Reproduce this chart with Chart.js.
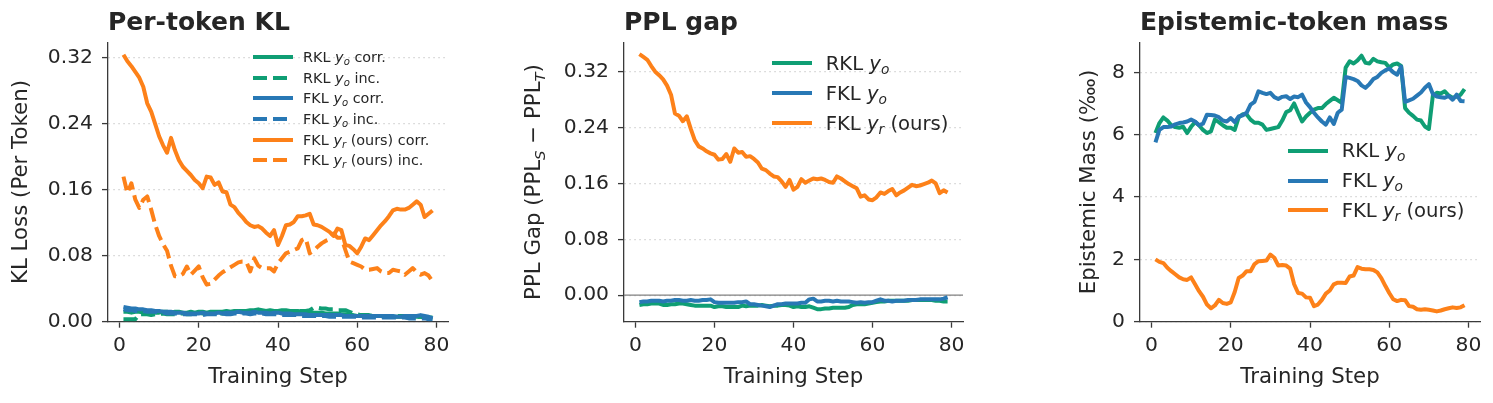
<!DOCTYPE html>
<html>
<head>
<meta charset="utf-8">
<script src="https://cdn.jsdelivr.net/npm/chart.js@4.4.1/dist/chart.umd.min.js"></script>
<style>
  html, body { margin: 0; padding: 0; background: #fff; }
  body { width: 1493px; height: 403px; position: relative; overflow: hidden;
         font-family: "DejaVu Sans", sans-serif; color: #262626; }
  canvas { position: absolute; top: 0; }
  .legend { position: absolute; }
  .legend .row { display: flex; align-items: center; white-space: nowrap; }
  .legend svg { display: block; flex: none; }
  .legend i { font-style: oblique; }
  .legend sub { font-size: 0.7em; vertical-align: -0.28em; line-height: 0; }
</style>
</head>
<body>
<canvas id="c-kl"  width="480" height="403" style="left:0px"></canvas>
<canvas id="c-ppl" width="490" height="403" style="left:497px"></canvas>
<canvas id="c-em"  width="493" height="403" style="left:1000px"></canvas>
<div class="legend" id="lg-kl"  style="left:253px;top:47px;font-size:14.4px"></div>
<div class="legend" id="lg-ppl" style="left:772px;top:48px;font-size:19.6px"></div>
<div class="legend" id="lg-em"  style="left:1288px;top:136px;font-size:19.6px"></div>

<script>
// =====================================================
// DATA (Training Step 1..79)
// =====================================================
const STEPS = [1,2,3,4,5,6,7,8,9,10,11,12,13,14,15,16,17,18,19,20,21,22,23,24,25,26,27,28,29,30,
  31,32,33,34,35,36,37,38,39,40,41,42,43,44,45,46,47,48,49,50,51,52,53,54,55,56,57,58,59,60,
  61,62,63,64,65,66,67,68,69,70,71,72,73,74,75,76,77,78,79];

const X_TICKS = [0, 20, 40, 60, 80];
const KL_TICKS = [0, 0.08, 0.16, 0.24, 0.32];
const PPL_TICKS = [0, 0.08, 0.16, 0.24, 0.32];
const EM_TICKS = [0, 2, 4, 6, 8];

// --- Panel 1: Per-token KL ---
const KL_RKL_YO_CORR = [.012,.012,.011,.012,.012,.011,.012,.012,.011,.011,.012,.012,.011,.012,.012,.011,.011,.012,.011,.012,
  .012,.011,.012,.012,.012,.012,.013,.012,.013,.013,.013,.013,.014,.014,.015,.014,.013,.014,.013,.013,
  .014,.014,.013,.013,.013,.012,.012,.012,.011,.011,.011,.010,.010,.010,.010,.009,.009,.008,.008,.007,
  .007,.007,.007,.007,.007,.007,.006,.006,.006,.006,.006,.006,.006,.006,.006,.006,.005,.005,.005];
const KL_RKL_YO_INC = [.003,.003,.003,.003,.009,.009,.009,.008,.009,.009,.010,.009,.009,.009,.010,.010,.009,.009,.010,.011,
  .010,.010,.010,.010,.010,.010,.011,.011,.011,.012,.012,.012,.012,.012,.013,.012,.012,.012,.012,.013,
  .013,.013,.012,.012,.013,.013,.013,.014,.017,.017,.016,.016,.015,.015,.014,.014,.014,.012,.010,.009,
  .008,.008,.008,.007,.007,.007,.007,.007,.007,.007,.007,.007,.007,.006,.006,.006,.005,.004,.004];
const KL_FKL_YO_CORR = [.018,.017,.016,.016,.015,.015,.014,.014,.013,.013,.012,.012,.012,.011,.011,.011,.010,.010,.010,.010,
  .011,.010,.010,.010,.011,.010,.011,.011,.011,.012,.011,.011,.011,.012,.011,.011,.011,.010,.011,.011,
  .010,.010,.010,.009,.009,.009,.009,.008,.008,.008,.008,.008,.008,.008,.008,.008,.007,.007,.007,.007,
  .007,.007,.007,.007,.007,.007,.007,.007,.007,.006,.006,.007,.007,.007,.007,.008,.007,.006,.004];
const KL_FKL_YO_INC = [.015,.014,.014,.013,.013,.013,.012,.012,.012,.011,.011,.010,.010,.010,.009,.009,.009,.009,.009,.009,
  .008,.009,.009,.009,.009,.010,.009,.009,.010,.010,.010,.010,.009,.010,.010,.010,.009,.009,.009,.009,
  .008,.008,.008,.008,.008,.007,.007,.007,.007,.007,.007,.007,.006,.006,.006,.006,.006,.006,.006,.006,
  .005,.005,.005,.005,.005,.005,.005,.005,.005,.005,.005,.005,.004,.004,.004,.004,.004,.003,.003];
const KL_FKL_YR_CORR = [.324,.316,.310,.303,.296,.285,.265,.255,.240,.225,.214,.205,.223,.208,.196,.188,.183,.178,.172,.168,
  .162,.176,.175,.166,.169,.158,.157,.142,.139,.132,.127,.121,.117,.115,.116,.113,.108,.104,.111,.093,
  .104,.117,.118,.121,.128,.128,.129,.131,.118,.117,.115,.112,.109,.104,.113,.111,.093,.092,.088,.083,
  .091,.101,.099,.105,.111,.117,.122,.128,.135,.137,.136,.136,.138,.142,.146,.142,.127,.131,.135];
const KL_FKL_YR_INC = [.176,.156,.168,.148,.138,.148,.152,.136,.118,.104,.094,.086,.068,.055,.055,.058,.067,.057,.062,.067,
  .054,.045,.046,.051,.056,.060,.063,.066,.069,.072,.073,.073,.061,.077,.068,.065,.065,.065,.061,.071,
  .077,.083,.085,.087,.089,.099,.101,.083,.086,.091,.095,.098,.100,.107,.102,.102,.087,.073,.071,.069,
  .067,.063,.063,.064,.065,.061,.059,.059,.063,.062,.061,.057,.061,.065,.060,.057,.059,.056,.049];

// --- Panel 2: PPL gap ---
const PPL_RKL_YO = [-.014,-.013,-.013,-.012,-.012,-.012,-.014,-.014,-.013,-.013,-.012,-.012,-.013,-.014,-.015,-.015,-.015,-.015,-.015,-.017,
  -.016,-.016,-.017,-.017,-.017,-.017,-.015,-.016,-.015,-.015,-.015,-.014,-.015,-.016,-.015,-.015,-.014,-.014,-.015,-.017,
  -.016,-.017,-.017,-.016,-.018,-.020,-.020,-.019,-.019,-.018,-.018,-.018,-.018,-.017,-.014,-.013,-.013,-.013,-.012,-.011,
  -.010,-.009,-.009,-.008,-.008,-.008,-.008,-.008,-.008,-.007,-.007,-.007,-.007,-.007,-.007,-.008,-.008,-.009,-.009];
const PPL_FKL_YO = [-.010,-.009,-.009,-.008,-.008,-.008,-.009,-.008,-.008,-.007,-.007,-.008,-.008,-.007,-.008,-.008,-.007,-.007,-.006,-.010,
  -.011,-.011,-.011,-.011,-.011,-.010,-.010,-.009,-.013,-.013,-.014,-.015,-.016,-.017,-.015,-.013,-.013,-.012,-.012,-.012,
  -.012,-.011,-.011,-.006,-.005,-.009,-.009,-.008,-.008,-.009,-.008,-.009,-.009,-.009,-.010,-.011,-.010,-.011,-.010,-.010,
  -.008,-.006,-.008,-.008,-.009,-.008,-.008,-.008,-.007,-.007,-.007,-.006,-.006,-.006,-.006,-.006,-.006,-.005,-.003];
const PPL_FKL_YR = [.345,.341,.337,.328,.320,.315,.309,.300,.287,.260,.257,.249,.256,.238,.222,.213,.210,.206,.203,.201,
  .194,.195,.202,.191,.210,.204,.205,.198,.199,.195,.190,.181,.179,.174,.170,.169,.163,.155,.165,.151,
  .155,.166,.161,.164,.167,.166,.167,.165,.162,.161,.170,.167,.163,.159,.156,.153,.141,.143,.137,.136,
  .140,.147,.145,.149,.152,.143,.147,.150,.154,.158,.156,.157,.159,.161,.164,.160,.146,.150,.147];

// --- Panel 3: Epistemic-token mass ---
const EM_RKL_YO = [6.05,6.37,6.55,6.45,6.30,6.24,6.22,6.25,6.05,6.25,6.40,6.30,6.15,6.05,6.10,6.48,6.40,6.30,6.22,6.22,
  6.15,6.55,6.65,6.65,6.48,6.38,6.38,6.32,6.15,6.18,6.21,6.24,6.45,6.72,6.78,7.00,6.70,6.42,6.58,6.70,
  6.80,6.85,6.85,6.98,7.08,7.18,7.10,7.02,8.15,8.35,8.28,8.38,8.53,8.30,8.28,8.43,8.35,8.32,8.30,8.15,
  8.25,8.28,8.20,6.85,6.70,6.60,6.48,6.45,6.26,6.18,7.25,7.34,7.32,7.39,7.25,7.18,7.22,7.28,7.46];
const EM_FKL_YO = [5.75,6.15,6.24,6.24,6.26,6.33,6.37,6.39,6.42,6.48,6.42,6.30,6.35,6.64,6.63,6.61,6.56,6.45,6.42,6.53,
  6.40,6.58,6.62,6.70,6.96,7.05,7.39,7.34,7.30,7.34,7.20,7.14,7.21,7.23,7.14,7.22,7.20,7.28,7.03,6.88,
  6.70,6.55,6.42,6.32,6.55,6.34,6.70,6.80,7.85,7.82,7.78,7.72,7.58,7.50,7.62,7.78,7.85,7.98,8.06,8.12,
  8.00,7.92,8.18,7.05,7.10,7.15,7.25,7.35,7.50,7.62,7.30,7.22,7.20,7.18,7.24,7.12,7.28,7.08,7.07];
const EM_FKL_YR = [2.00,1.92,1.88,1.73,1.62,1.52,1.42,1.36,1.34,1.42,1.20,0.98,0.80,0.55,0.43,0.52,0.70,0.60,0.57,0.62,
  0.95,1.40,1.48,1.62,1.62,1.85,1.94,1.95,1.96,2.15,2.05,1.80,1.82,1.80,1.70,1.20,0.92,0.90,0.78,0.77,
  0.50,0.55,0.70,0.90,1.00,1.20,1.25,1.25,1.24,1.45,1.48,1.75,1.70,1.68,1.68,1.66,1.58,1.40,1.15,0.92,
  0.72,0.66,0.70,0.69,0.50,0.48,0.40,0.38,0.40,0.38,0.36,0.33,0.36,0.40,0.43,0.46,0.44,0.46,0.53];

// Label legenda (HTML: y miring + subskrip)
const KL_LABELS = [
  'RKL <i>y<sub>o</sub></i> corr.', 'RKL <i>y<sub>o</sub></i> inc.',
  'FKL <i>y<sub>o</sub></i> corr.', 'FKL <i>y<sub>o</sub></i> inc.',
  'FKL <i>y<sub>r</sub></i> (ours) corr.', 'FKL <i>y<sub>r</sub></i> (ours) inc.'];
const MAIN_LABELS = ['RKL <i>y<sub>o</sub></i>', 'FKL <i>y<sub>o</sub></i>', 'FKL <i>y<sub>r</sub></i> (ours)'];

// =====================================================
// GAYA
// =====================================================
const GREEN = "#0f9e74";
const BLUE = "#2878b5";
const ORANGE = "#fd8119";
const TEXT = "#262626";
const SPINE = "#3a3a3a";
const GRID = "#d2d2d2";
const DASH = [14, 6];
const LINE_W = 4;
const FONT = "'DejaVu Sans', sans-serif";

const KL_COLORS = [GREEN, GREEN, BLUE, BLUE, ORANGE, ORANGE];
const KL_DASHED = [false, true, false, true, false, true];
const MAIN_COLORS = [GREEN, BLUE, ORANGE];

const toPoints = (vals) => STEPS.map((s, i) => ({ x: s, y: vals[i] }));

function makeDataset(vals, color, dashed, idx) {
  return {
    data: toPoints(vals),
    borderColor: color,
    backgroundColor: color,
    borderWidth: LINE_W,
    borderDash: dashed ? DASH : [],
    borderJoinStyle: "round",
    borderCapStyle: "butt",
    pointRadius: 0,
    tension: 0,
    fill: false,
    order: -idx, // dataset belakangan digambar di atas (seperti matplotlib)
  };
}

// =====================================================
// OPSI CHART (dipakai ketiga panel)
// =====================================================
function makeOptions(cfg) {
  return {
    responsive: false,
    animation: false,
    events: [],
    layout: { padding: { left: 0, right: cfg.rightPad, top: 0, bottom: 0 } },
    plugins: {
      legend: { display: false },
      tooltip: { enabled: false },
      title: {
        display: true,
        text: cfg.title,
        align: "start",
        fullSize: false,
        color: TEXT,
        font: { family: FONT, size: 25, weight: "bold" },
        padding: { top: 8.9, bottom: 3.4 },
      },
    },
    scales: {
      x: {
        type: "linear",
        min: -2.9,
        max: 82.9,
        afterBuildTicks: (s) => { s.ticks = X_TICKS.map((v) => ({ value: v })); },
        afterFit: (s) => { s.height = 81.3; },
        grid: { display: true, drawOnChartArea: false, drawTicks: true, tickLength: 6,
                tickColor: SPINE, tickWidth: 1.3 },
        border: { display: true, color: SPINE, width: 1.3 },
        ticks: { color: TEXT, font: { family: FONT, size: 20.3 }, padding: 6, maxRotation: 0,
                 callback: (v) => String(v) },
        title: { display: true, text: "Training Step", color: TEXT,
                 font: { family: FONT, size: 21.3 }, padding: { top: 0, bottom: 12.7 } },
      },
      y: {
        type: "linear",
        min: cfg.yMin,
        max: cfg.yMax,
        afterBuildTicks: (s) => { s.ticks = cfg.yTicks.map((v) => ({ value: v })); },
        afterFit: (s) => { s.width = cfg.yWidth; },
        grid: { display: true, drawOnChartArea: true, drawTicks: true, tickLength: 6,
                color: GRID, lineWidth: 1.2, tickColor: SPINE, tickWidth: 1.3, tickBorderDash: [] },
        border: { display: true, color: SPINE, width: 1.3, dash: [1.5, 3.5] },
        ticks: { color: TEXT, font: { family: FONT, size: 20.3 }, padding: 9, callback: cfg.yFmt },
        title: { display: cfg.yTitle !== null, text: cfg.yTitle || "", color: TEXT,
                 font: { family: FONT, size: 21.3 }, padding: { top: cfg.yTitlePad, bottom: 0 } },
      },
    },
  };
}

// Garis horizontal y = 0 (panel PPL gap)
const zeroLine = {
  id: "zeroLine",
  beforeDatasetsDraw(chart) {
    const { ctx, chartArea, scales } = chart;
    const y = scales.y.getPixelForValue(0);
    ctx.save();
    ctx.strokeStyle = "#808080";
    ctx.lineWidth = 1.3;
    ctx.beginPath();
    ctx.moveTo(chartArea.left, y);
    ctx.lineTo(chartArea.right, y);
    ctx.stroke();
    ctx.restore();
  },
};

// Label sumbu Y dengan subskrip miring: PPL Gap (PPL_S − PPL_T)
const pplAxisLabel = {
  id: "pplAxisLabel",
  afterDraw(chart) {
    const { ctx, chartArea } = chart;
    const size = 21.3;
    const segs = [
      { t: "PPL Gap (PPL", sub: false }, { t: "S", sub: true },
      { t: " \u2212 PPL", sub: false }, { t: "T", sub: true }, { t: ")", sub: false },
    ];
    const fontOf = (sg) => sg.sub ? `italic ${size * 0.7}px ${FONT}` : `${size}px ${FONT}`;
    let total = 0;
    segs.forEach((sg) => { ctx.font = fontOf(sg); sg.w = ctx.measureText(sg.t).width; total += sg.w; });
    const cx = chart.scales.y.left + 37.3;
    const cy = (chartArea.top + chartArea.bottom) / 2;
    ctx.save();
    ctx.translate(cx, cy);
    ctx.rotate(-Math.PI / 2);
    ctx.fillStyle = TEXT;
    ctx.textBaseline = "middle";
    ctx.textAlign = "left";
    let x = -total / 2;
    segs.forEach((sg) => {
      ctx.font = fontOf(sg);
      ctx.fillText(sg.t, x, sg.sub ? size * 0.3 : 0);
      x += sg.w;
    });
    ctx.restore();
  },
};

// =====================================================
// LEGENDA HTML
// =====================================================
function buildLegend(id, labels, colors, dashed, rowH, gapEm) {
  const box = document.getElementById(id);
  box.innerHTML = labels.map((lab, i) => {
    const dash = dashed[i] ? `stroke-dasharray="${DASH.join(" ")}"` : "";
    return `<div class="row" style="height:${rowH}px">
      <svg width="40" height="10"><line x1="0" y1="5" x2="40" y2="5" stroke="${colors[i]}"
        stroke-width="${LINE_W}" ${dash}/></svg>
      <span style="margin-left:${gapEm}em">${lab}</span></div>`;
  }).join("");
}

// =====================================================
// RENDER
// =====================================================
const fmt2 = (v) => v.toFixed(2);

new Chart(document.getElementById("c-kl"), {
  type: "line",
  data: { datasets: [KL_RKL_YO_CORR, KL_RKL_YO_INC, KL_FKL_YO_CORR, KL_FKL_YO_INC, KL_FKL_YR_CORR, KL_FKL_YR_INC]
    .map((v, i) => makeDataset(v, KL_COLORS[i], KL_DASHED[i], i)) },
  options: makeOptions({ title: "Per-token KL", yMin: 0, yMax: 0.339, yTicks: KL_TICKS, yFmt: fmt2,
    yWidth: 108, rightPad: 32, yTitle: "KL Loss (Per Token)", yTitlePad: 8.9 }),
});

new Chart(document.getElementById("c-ppl"), {
  type: "line",
  data: { datasets: [PPL_RKL_YO, PPL_FKL_YO, PPL_FKL_YR]
    .map((v, i) => makeDataset(v, MAIN_COLORS[i], false, i)) },
  options: makeOptions({ title: "PPL gap", yMin: -0.038, yMax: 0.362, yTicks: PPL_TICKS, yFmt: fmt2,
    yWidth: 127, rightPad: 24, yTitle: null, yTitlePad: 0 }),
  plugins: [zeroLine, pplAxisLabel],
});

new Chart(document.getElementById("c-em"), {
  type: "line",
  data: { datasets: [EM_RKL_YO, EM_FKL_YO, EM_FKL_YR]
    .map((v, i) => makeDataset(v, MAIN_COLORS[i], false, i)) },
  options: makeOptions({ title: "Epistemic-token mass", yMin: 0, yMax: 8.96, yTicks: EM_TICKS,
    yFmt: (v) => String(v), yWidth: 140, rightPad: 13, yTitle: "Epistemic Mass (\u2031)", yTitlePad: 76.2 }),
});

buildLegend("lg-kl", KL_LABELS, KL_COLORS, KL_DASHED, 20.6, 0.7);
buildLegend("lg-ppl", MAIN_LABELS, MAIN_COLORS, [false, false, false], 30, 0.7);
buildLegend("lg-em", MAIN_LABELS, MAIN_COLORS, [false, false, false], 29.7, 0.7);
</script>
</body>
</html>
